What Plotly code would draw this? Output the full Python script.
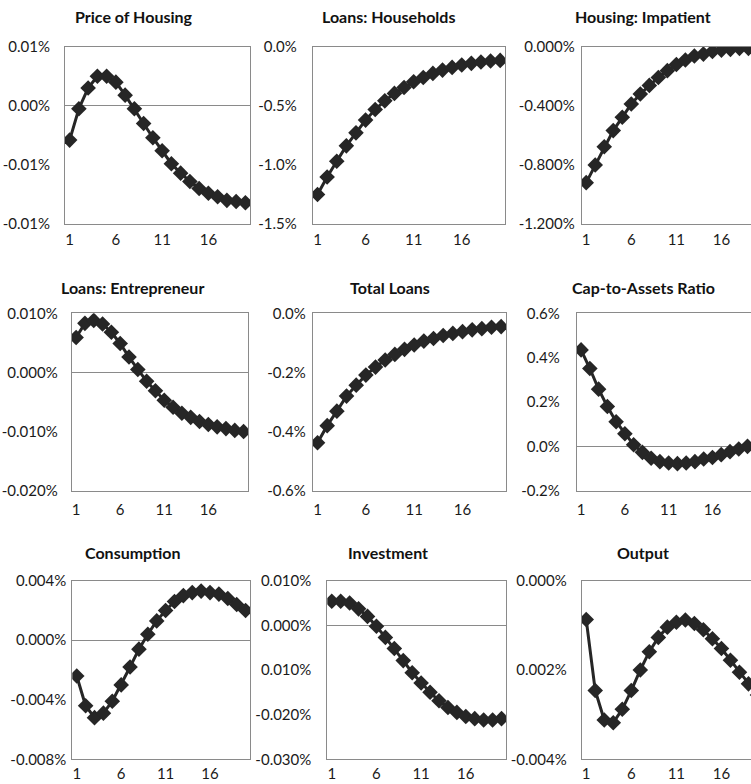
import plotly.graph_objects as go
from plotly.subplots import make_subplots

# Impulse responses, quarters 1..20 (values in percent deviation)
periods = list(range(1, 21))

price_of_housing = [-0.0029, -0.00025, 0.0015, 0.0025, 0.0025, 0.0020, 0.0009, -0.00025, -0.0015, -0.0027,
                    -0.0038, -0.0049, -0.0057, -0.0064, -0.0070, -0.0074, -0.0077, -0.0080, -0.0081, -0.0082]
loans_households = [-1.251, -1.102, -0.969, -0.839, -0.729, -0.621, -0.531, -0.458, -0.395, -0.345,
                    -0.297, -0.260, -0.226, -0.198, -0.175, -0.155, -0.141, -0.130, -0.121, -0.116]
housing_impatient = [-0.920, -0.801, -0.677, -0.568, -0.478, -0.388, -0.320, -0.262, -0.208, -0.162,
                     -0.120, -0.090, -0.063, -0.050, -0.032, -0.023, -0.018, -0.011, -0.011, -0.007]
loans_entrepreneur = [0.0059, 0.0083, 0.0088, 0.0082, 0.0068, 0.0049, 0.0026, 0.0005, -0.0015, -0.0031,
                      -0.0047, -0.0059, -0.0069, -0.0076, -0.0083, -0.0088, -0.0092, -0.0095, -0.0098, -0.0100]
total_loans = [-0.438, -0.380, -0.331, -0.280, -0.243, -0.209, -0.182, -0.158, -0.139, -0.122,
               -0.107, -0.094, -0.085, -0.075, -0.068, -0.062, -0.056, -0.052, -0.047, -0.045]
cap_to_assets = [0.435, 0.351, 0.258, 0.180, 0.111, 0.057, 0.0075, -0.027, -0.054, -0.069,
                 -0.075, -0.078, -0.075, -0.069, -0.057, -0.050, -0.0375, -0.024, -0.012, 0.0]
consumption = [-0.0024, -0.0044, -0.0052, -0.0049, -0.0041, -0.0030, -0.0018, -0.0006, 0.0004, 0.0013,
               0.0020, 0.0026, 0.0030, 0.0032, 0.0033, 0.0032, 0.0031, 0.0028, 0.0024, 0.0020]
investment = [0.0054, 0.0054, 0.0050, 0.0037, 0.0020, -0.0002, -0.0027, -0.0052, -0.0079, -0.0106,
              -0.0129, -0.0150, -0.0169, -0.0184, -0.0195, -0.0204, -0.0209, -0.0212, -0.0212, -0.0209]
output = [-0.00087, -0.00246, -0.00312, -0.00318, -0.00288, -0.00246, -0.0020, -0.00159, -0.00127, -0.00104,
          -0.00093, -0.00088, -0.00096, -0.0011, -0.0013, -0.00152, -0.00178, -0.00205, -0.00231, -0.00256]

titles = ["Price of Housing", "Loans: Households", "Housing: Impatient",
          "Loans: Entrepreneur", "Total Loans", "Cap-to-Assets Ratio",
          "Consumption", "Investment", "Output"]
series = [price_of_housing, loans_households, housing_impatient,
          loans_entrepreneur, total_loans, cap_to_assets,
          consumption, investment, output]

# y-axis tick positions and their printed labels
ytick_vals = [
    [0.005, 0.0, -0.005, -0.010],
    [0.0, -0.5, -1.0, -1.5],
    [0.0, -0.4, -0.8, -1.2],
    [0.010, 0.0, -0.010, -0.020],
    [0.0, -0.2, -0.4, -0.6],
    [0.6, 0.4, 0.2, 0.0, -0.2],
    [0.004, 0.0, -0.004, -0.008],
    [0.010, 0.0, -0.010, -0.020, -0.030],
    [0.0, -0.002, -0.004],
]
ytick_text = [
    ["0.01%", "0.00%", "-0.01%", "-0.01%"],
    ["0.0%", "-0.5%", "-1.0%", "-1.5%"],
    ["0.000%", "-0.400%", "-0.800%", "-1.200%"],
    ["0.010%", "0.000%", "-0.010%", "-0.020%"],
    ["0.0%", "-0.2%", "-0.4%", "-0.6%"],
    ["0.6%", "0.4%", "0.2%", "0.0%", "-0.2%"],
    ["0.004%", "0.000%", "-0.004%", "-0.008%"],
    ["0.010%", "0.000%", "0.010%", "-0.020%", "-0.030%"],
    ["0.000%", "0.002%", "-0.004%"],
]
xtick_vals = [1, 6, 11, 16]
xtick_text = ["1", "6", "11", "16"]

W, H = 751, 784
FONT = "Lato"
INK = "#262626"
FRAME = "#8a8a8a"
TICK_FONT = dict(family=FONT, size=15, color="#1a1a1a")

# plot-area boxes in pixels: (left, right, top, bottom, x-range end)
boxes = [
    (65.0, 250.0, 46.7, 224.0, 20.5),
    (312.7, 505.0, 46.7, 224.0, 20.5),
    (581.7, 751.0, 46.7, 224.0, 19.28),
    (71.7, 248.0, 313.3, 490.7, 20.5),
    (312.7, 506.0, 313.3, 490.7, 20.5),
    (576.7, 751.0, 313.3, 490.7, 20.4),
    (72.3, 250.0, 580.7, 759.3, 20.5),
    (327.3, 506.0, 580.7, 759.3, 20.5),
    (581.7, 751.0, 580.7, 759.3, 19.28),
]
# gap between y tick labels and the plot frame, per panel
y_label_gap = [11, 12, 3, 10, 3, 13, 2, 12, 11]
# gap between x tick labels and the bottom frame, per row
x_label_gap = [2, 5, 1]
# title centres in pixels
title_pos = [(134, 17), (388, 17), (643, 17),
             (132, 287), (390, 287), (643, 287),
             (133, 552), (388, 552), (643, 552)]

fig = make_subplots(rows=3, cols=3)

for i, (name, vals) in enumerate(zip(titles, series)):
    r, c = i // 3 + 1, i % 3 + 1
    fig.add_trace(
        go.Scatter(
            x=periods, y=vals, mode="lines+markers", name=name,
            line=dict(color=INK, width=3),
            marker=dict(symbol="diamond", size=12, color=INK),
            showlegend=False,
        ),
        row=r, col=c,
    )
    left, right, top, bottom, xend = boxes[i]
    yv = ytick_vals[i]
    fig.update_xaxes(
        domain=[left / W, right / W], range=[0.5, xend], automargin=False,
        tickmode="array", tickvals=xtick_vals, ticktext=xtick_text,
        showgrid=False, zeroline=False, ticks="", ticklabelstandoff=x_label_gap[r - 1],
        showline=True, linecolor=FRAME, linewidth=1, mirror=True,
        tickfont=TICK_FONT,
        row=r, col=c,
    )
    fig.update_yaxes(
        domain=[1 - bottom / H, 1 - top / H], range=[min(yv), max(yv)], automargin=False,
        tickmode="array", tickvals=yv, ticktext=ytick_text[i],
        showgrid=False, zeroline=True, zerolinecolor=FRAME, zerolinewidth=1,
        ticks="", ticklabelstandoff=y_label_gap[i],
        showline=True, linecolor=FRAME, linewidth=1,
        mirror=(c != 3),
        tickfont=TICK_FONT,
        row=r, col=c,
    )
    tx, ty = title_pos[i]
    fig.add_annotation(
        text=f"<b>{name}</b>", x=tx / W, y=1 - ty / H, xref="paper", yref="paper",
        xanchor="center", yanchor="middle", showarrow=False,
        font=dict(family=FONT, size=16, color="#111111"),
    )

fig.update_layout(
    width=W, height=H,
    margin=dict(l=0, r=0, t=0, b=0, autoexpand=False),
    paper_bgcolor="white", plot_bgcolor="white",
    font=dict(family=FONT),
)

fig.write_html("out.html")
